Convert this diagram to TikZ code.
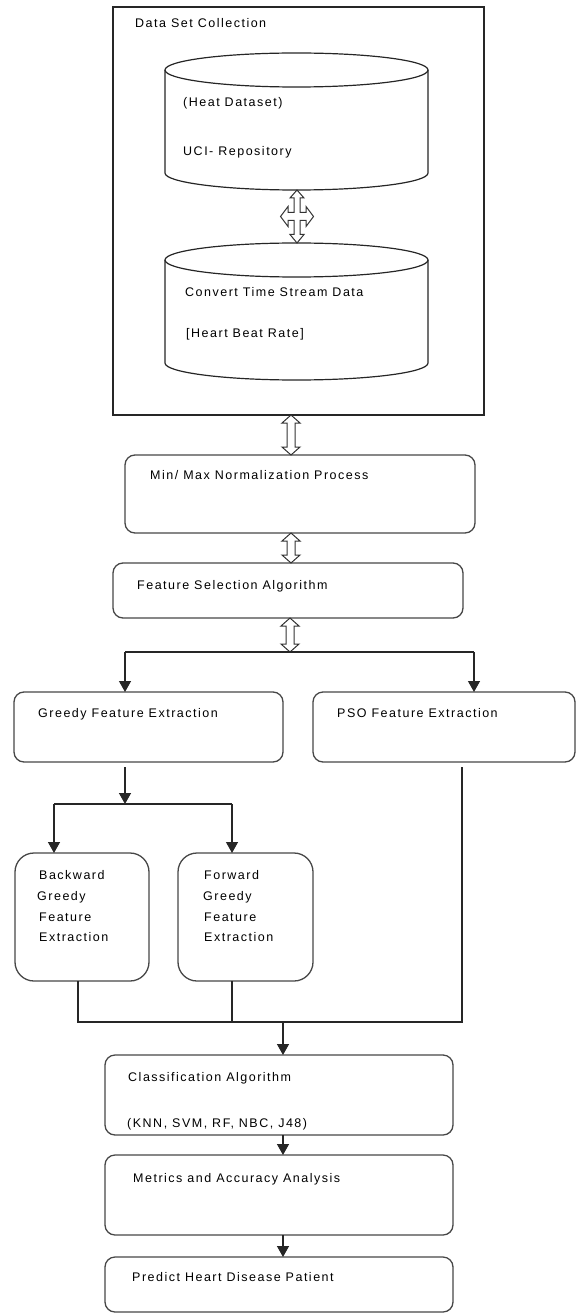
\documentclass[tikz,border=0pt]{standalone}
\usepackage{fontspec}
\setmainfont{Liberation Sans}[LetterSpace=12]
\usetikzlibrary{arrows.meta,calc}
\tikzset{
  boxst/.style={draw=black!72, line width=1.3pt, rounded corners=10pt, inner sep=0pt, outer sep=0pt, fill=white},
  bigrnd/.style={boxst, rounded corners=19pt},
  outerst/.style={draw=black!85, line width=1.5pt, inner sep=0pt, outer sep=0pt},
  txt/.style={anchor=base west, inner sep=0pt, font=\fontsize{12.5}{15}\selectfont},
  conn/.style={draw=black!85, line width=1.3pt},
  arr/.style={conn, -{Triangle[width=12pt,length=11pt]}},
  hollowarr/.style={draw=black!80, line width=1pt, fill=white, line join=miter},
  cylst/.style={draw=black!85, line width=1.2pt}
}
\newcommand\hollowdbl[3]{%
  \draw[hollowarr] let \p1=(#2), \p2=(#3) in
   (#1,\y1) -- ({#1+9},\y1-8pt) -- ({#1+4},\y1-8pt) -- ({#1+4},\y2+8pt) -- ({#1+9},\y2+8pt)
   -- (#1,\y2) -- ({#1-9},\y2+8pt) -- ({#1-4},\y2+8pt) -- ({#1-4},\y1-8pt) -- ({#1-9},\y1-8pt) -- cycle;}
\begin{document}
\begin{tikzpicture}[x=1pt,y=1pt]
\useasboundingbox (0,0) rectangle (576,-1313);
% outer box
\node[outerst, minimum width=371pt, minimum height=408pt] (outer) at (298.5,-211) {};
\node[txt] (tdsc) at (135,-27.5) {Data Set Collection};
% cylinder 1
\draw[cylst, fill=white] (165,-70) -- (165,-173) arc[start angle=180, end angle=360, x radius=131.5pt, y radius=17pt] -- (428,-70);
\draw[cylst] (296.5,-70) ellipse [x radius=131.5pt, y radius=17pt];
\coordinate (c1b) at (297,-190);
\node[txt] (theat) at (183,-106.5) {(Heat Dataset)};
\node[txt] (tuci) at (183,-155.5) {UCI- Repository};
% cylinder 2
\draw[cylst, fill=white] (165,-260) -- (165,-363) arc[start angle=180, end angle=360, x radius=131.5pt, y radius=17pt] -- (428,-260);
\draw[cylst] (296.5,-260) ellipse [x radius=131.5pt, y radius=17pt];
\coordinate (c2t) at (297,-243);
\node[txt] (tconv) at (185,-296.5) {Convert Time Stream Data};
\node[txt] (tbeat) at (186,-337.5) {[Heart Beat Rate]};
% cross arrow between cylinders
\begin{scope}[shift={($(c1b)!0.5!(c2t)$)}]
\draw[hollowarr] (0,26.5) -- (7,18.5) -- (3,18.5) -- (3,4) -- (9,4) -- (9,10) -- (16.5,0) -- (9,-10) -- (9,-4) -- (3,-4) -- (3,-18) -- (7,-18) -- (0,-26.5) -- (-7,-18) -- (-3,-18) -- (-3,-4) -- (-9,-4) -- (-9,-10) -- (-16.5,0) -- (-9,10) -- (-9,4) -- (-3,4) -- (-3,18.5) -- (-7,18.5) -- cycle;
\end{scope}
% boxes
\node[boxst, minimum width=350pt, minimum height=78pt] (minmax) at (300,-494) {};
\node[txt] (tmin) at (150,-479.5) {Min/ Max Normalization Process};
\node[boxst, minimum width=350pt, minimum height=55pt] (featsel) at (288,-590.5) {};
\node[txt] (tfs) at (137,-589.5) {Feature Selection Algorithm};
\node[boxst, minimum width=269pt, minimum height=70pt] (greedy) at (148.5,-727) {};
\node[txt] (tgr) at (38,-717.5) {Greedy Feature Extraction};
\node[boxst, minimum width=262pt, minimum height=70pt] (pso) at (444,-727) {};
\node[txt] (tpso) at (337,-717.5) {PSO Feature Extraction};
\node[bigrnd, minimum width=134pt, minimum height=128pt] (backward) at (82,-917) {};
\node[bigrnd, minimum width=135pt, minimum height=128pt] (forward) at (245.5,-917) {};
\node[txt] (tb1) at (39,-879.5) {Backward};
\node[txt] (tb2) at (37,-900.5) {Greedy};
\node[txt] (tb3) at (39,-921.5) {Feature};
\node[txt] (tb4) at (39,-941.5) {Extraction};
\node[txt] (tf1) at (204,-879.5) {Forward};
\node[txt] (tf2) at (203,-900.5) {Greedy};
\node[txt] (tf3) at (204,-921.5) {Feature};
\node[txt] (tf4) at (204,-941.5) {Extraction};
\node[boxst, minimum width=348pt, minimum height=80pt] (classif) at (279,-1095) {};
\node[txt] (tcl1) at (128,-1081.5) {Classification Algorithm};
\node[txt] (tcl2) at (127,-1127.5) {(KNN, SVM, RF, NBC, J48)};
\node[boxst, minimum width=348pt, minimum height=80pt] (metrics) at (279,-1195) {};
\node[txt] (tmet) at (133,-1182.5) {Metrics and Accuracy Analysis};
\node[boxst, minimum width=348pt, minimum height=55pt] (predict) at (279,-1284.5) {};
\node[txt] (tpre) at (132,-1281.5) {Predict Heart Disease Patient};
% hollow double arrows
\coordinate (br) at (290,-652);
\hollowdbl{291}{outer.south}{minmax.north}
\hollowdbl{291}{minmax.south}{featsel.north}
\hollowdbl{290}{featsel.south}{br}
% branching
\coordinate (gl) at (125,-652);
\coordinate (pr) at (474,-652);
\draw[conn] (gl) -- (pr);
\draw[arr] (gl) -- (gl |- greedy.north);
\draw[arr] (pr) -- (pr |- pso.north);
\coordinate (g1) at (125,-767);
\coordinate (g2) at (125,-804);
\draw[arr] (g1) -- (g2);
\coordinate (bl) at (54,-804);
\coordinate (fr) at (232,-804);
\draw[conn] (bl) -- (fr);
\draw[arr] (bl) -- (bl |- backward.north);
\draw[arr] (fr) -- (fr |- forward.north);
% merge
\coordinate (j1) at (78,-1022);
\coordinate (j2) at (232,-1022);
\coordinate (j3) at (462,-1022);
\coordinate (pout) at (462,-767);
\draw[conn] (backward.south -| j1) -- (j1) -- (j3) -- (pout);
\draw[conn] (forward.south -| j2) -- (j2);
\coordinate (jc) at (283,-1022);
\draw[arr] (jc) -- (jc |- classif.north);
\draw[arr] (classif.south -| jc) -- (metrics.north -| jc);
\draw[arr] (metrics.south -| jc) -- (predict.north -| jc);
\end{tikzpicture}
\end{document}
